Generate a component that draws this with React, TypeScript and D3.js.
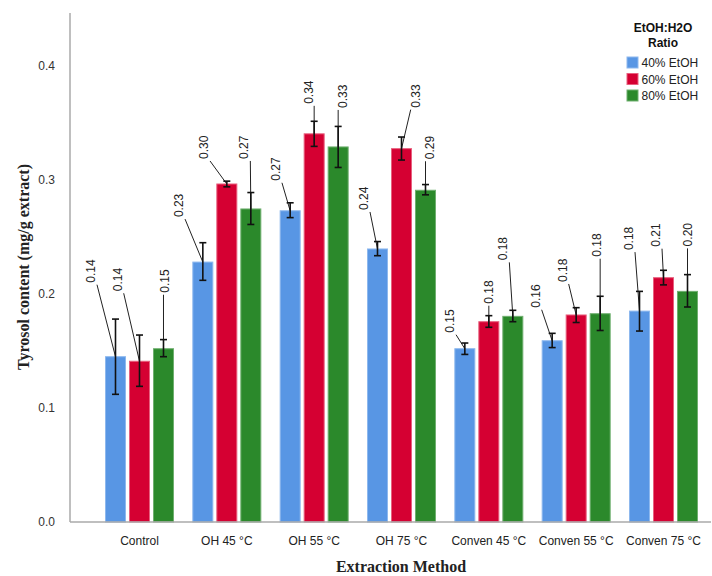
import React from "react";
import * as d3 from "d3";

const categories = ["Control", "OH 45 °C", "OH 55 °C", "OH 75 °C", "Conven 45 °C", "Conven 55 °C", "Conven 75 °C"];
const seriesNames = ["40% EtOH", "60% EtOH", "80% EtOH"];
const seriesColors = ["#5896E4", "#D50032", "#2B892B"];
const seriesStroke = ["#8DB8EE", "#E8607E", "#6FAF6F"];

const values40 = [0.145, 0.228, 0.273, 0.2395, 0.152, 0.159, 0.185];
const values60 = [0.141, 0.2965, 0.3405, 0.3275, 0.1757, 0.1816, 0.2143];
const values80 = [0.152, 0.2746, 0.329, 0.291, 0.1804, 0.1827, 0.2023];

const errLow40 = [0.112, 0.212, 0.267, 0.2336, 0.147, 0.153, 0.1675];
const errHigh40 = [0.178, 0.245, 0.28, 0.246, 0.157, 0.1655, 0.2023];
const errLow60 = [0.119, 0.294, 0.3295, 0.3175, 0.1708, 0.175, 0.208];
const errHigh60 = [0.164, 0.299, 0.3515, 0.3377, 0.181, 0.188, 0.2208];
const errLow80 = [0.145, 0.261, 0.311, 0.287, 0.1757, 0.168, 0.1886];
const errHigh80 = [0.16, 0.289, 0.347, 0.296, 0.1857, 0.198, 0.217];

const labels40 = ["0.14", "0.23", "0.27", "0.24", "0.15", "0.16", "0.18"];
const labels60 = ["0.14", "0.30", "0.34", "0.33", "0.18", "0.18", "0.21"];
const labels80 = ["0.15", "0.27", "0.33", "0.29", "0.18", "0.18", "0.20"];

const yTicks = [0, 0.1, 0.2, 0.3, 0.4];

// label placement offsets (layout): [dx from bar centre, gap above bar top] in px
const labelLayout40 = [[-24.5, 74], [-23.8, 45], [-14.2, 30], [-13.5, 39], [-14.8, 16], [-16.5, 33], [-10.5, 61]];
const labelLayout60 = [[-21.8, 70], [-22.8, 25], [-4.9, 30], [14.2, 41], [0.5, 18], [-13.5, 33], [-7.5, 31]];
const labelLayout80 = [[1.5, 56], [-6.5, 50], [4.5, 39], [4.5, 31], [-9.5, 56], [-3.5, 57], [0.8, 45]];

const W = 712;
const H = 576;
const axisLeft = 70;
const axisBottom = 522;

export default function App() {
  const values = [values40, values60, values80];
  const errLow = [errLow40, errLow60, errLow80];
  const errHigh = [errHigh40, errHigh60, errHigh80];
  const labels = [labels40, labels60, labels80];
  const layouts = [labelLayout40, labelLayout60, labelLayout80];

  const x0 = d3.scaleBand<string>().domain(categories).range([95.83, 707.17]).padding(0);
  const x1 = d3.scaleBand<string>().domain(seriesNames).range([-34.5, 34.5]).paddingInner(0.125).paddingOuter(0);
  const y = d3.scaleLinear().domain([0, 0.4]).range([axisBottom, 66]);

  const sans = "Arial, 'Liberation Sans', sans-serif";
  const serif = "'Times New Roman', 'Liberation Serif', serif";

  const bars: any[] = [];
  const errs: any[] = [];
  const lbls: any[] = [];

  categories.forEach((cat, i) => {
    const cx = (x0(cat) as number) + x0.bandwidth() / 2;
    seriesNames.forEach((s, k) => {
      const bx = cx + (x1(s) as number);
      const bw = x1.bandwidth();
      const bc = bx + bw / 2;
      const v = values[k][i];
      const top = y(v);
      bars.push(
        <rect key={`b${i}-${k}`} x={bx + 0.5} y={top} width={bw - 1} height={axisBottom - top}
          fill={seriesColors[k]} stroke={seriesStroke[k]} strokeWidth={1} />
      );
      const lo = y(errLow[k][i]);
      const hi = y(errHigh[k][i]);
      errs.push(
        <g key={`e${i}-${k}`} stroke="#111" strokeWidth={1.6}>
          <line x1={bc} x2={bc} y1={hi} y2={lo} />
          <line x1={bc - 3.5} x2={bc + 3.5} y1={hi} y2={hi} />
          <line x1={bc - 3.5} x2={bc + 3.5} y1={lo} y2={lo} />
        </g>
      );
      const [dx, gap] = layouts[k][i];
      const tx = bc + dx;
      const by = top - gap;
      const sx = Math.max(tx - 5, Math.min(tx + 6, bc));
      lbls.push(
        <g key={`l${i}-${k}`}>
          <line x1={sx} y1={by + 2} x2={bc} y2={top} stroke="#222" strokeWidth={1} />
          <text transform={`translate(${tx},${by}) rotate(-90)`} textAnchor="start" dominantBaseline="central"
            fontFamily={sans} fontSize={12} fill="#222">{labels[k][i]}</text>
        </g>
      );
    });
  });

  return (
    <svg width={W} height={H} style={{ position: "absolute", left: 0, top: 0, background: "#fff" }}>
      <rect x={0} y={0} width={W} height={H} fill="#fff" />
      {/* y axis */}
      <line x1={axisLeft} x2={axisLeft} y1={13} y2={axisBottom} stroke="#aaa" strokeWidth={1.5} />
      {yTicks.map((t) => (
        <text key={`yt${t}`} x={55} y={y(t)} textAnchor="end" dominantBaseline="central"
          fontFamily={sans} fontSize={12} fill="#333">{t.toFixed(1)}</text>
      ))}
      {bars}
      {lbls}
      {errs}
      {/* x axis */}
      <line x1={axisLeft} x2={711} y1={axisBottom} y2={axisBottom} stroke="#aaa" strokeWidth={1.5} />
      {categories.map((c) => (
        <text key={`xc${c}`} x={(x0(c) as number) + x0.bandwidth() / 2} y={541} textAnchor="middle"
          dominantBaseline="central" fontFamily={sans} fontSize={12} fill="#222">{c}</text>
      ))}
      <text x={401} y={566} textAnchor="middle" dominantBaseline="central" fontFamily={serif}
        fontWeight="bold" fontSize={16} fill="#222">Extraction Method</text>
      <text transform={`translate(23,267) rotate(-90)`} textAnchor="middle" dominantBaseline="central"
        fontFamily={serif} fontWeight="bold" fontSize={16} fill="#222">Tyrosol content (mg/g extract)</text>
      {/* legend */}
      <text x={663} y={28} textAnchor="middle" dominantBaseline="central" fontFamily={sans} fontWeight="bold"
        fontSize={12} fill="#111">EtOH:H2O</text>
      <text x={663} y={43} textAnchor="middle" dominantBaseline="central" fontFamily={sans} fontWeight="bold"
        fontSize={12} fill="#111">Ratio</text>
      {seriesNames.map((s, k) => (
        <g key={`lg${s}`}>
          <rect x={627} y={57 + k * 16.5} width={11} height={11} fill={seriesColors[k]} stroke={seriesStroke[k]} strokeWidth={1} />
          <text x={641.5} y={63 + k * 16.5} dominantBaseline="central" fontFamily={sans} fontSize={12} fill="#222">{s}</text>
        </g>
      ))}
    </svg>
  );
}
